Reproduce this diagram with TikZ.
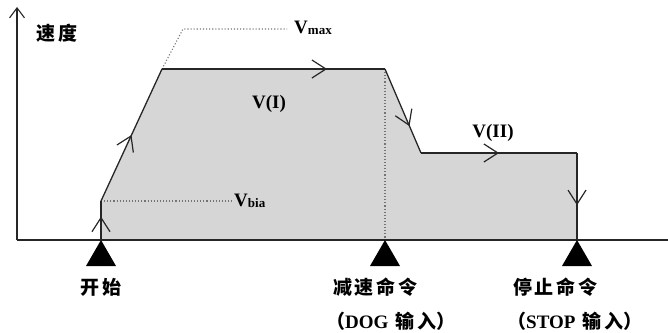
\documentclass[tikz,border=0pt]{standalone}
\usepackage{fontspec}
\setmainfont{Liberation Serif}
\newfontfamily\cjk[LetterSpace=14]{Noto Sans CJK SC}
\newfontfamily\cjkp{Noto Sans CJK SC}
\usetikzlibrary{arrows.meta,decorations.markings}
\tikzset{
  barb/.tip={Straight Barb[length=14pt,width=18pt,line width=1.2pt]},
  axbarb/.tip={Straight Barb[length=10pt,width=15pt,line width=1.1pt]},
  prof/.style={line width=1.3pt,draw=black!85},
  midarr/.style={postaction={decorate},decoration={markings,
     mark=at position #1 with {\arrow{barb}}}},
  dots/.style={dotted,line width=1.1pt,draw=black!55},
  tri/.style={fill=black},
  cjklab/.style={font=\cjk\bfseries\fontsize{19}{22}\selectfont,inner sep=0pt},
  vlab/.style={font=\bfseries\fontsize{19}{22}\selectfont,inner sep=0pt},
  slab/.style={font=\bfseries\fontsize{19}{21}\selectfont,inner sep=0pt},
}
\begin{document}
\begin{tikzpicture}[x=1pt,y=-1pt]
\useasboundingbox (0,0) rectangle (668,332);
% coordinates
\coordinate (O) at (17,240);
\coordinate (Ytop) at (17,7);
\coordinate (Xend) at (668,240);
\coordinate (S) at (101,240);
\coordinate (B) at (101,201);
\coordinate (P1) at (162,69);
\coordinate (P2) at (385,69);
\coordinate (Q1) at (421,153);
\coordinate (Q2) at (577,153);
\coordinate (E) at (577,240);
\coordinate (D) at (385,240);
\coordinate (Bend) at (232,201);
\coordinate (M1) at (183,29);
\coordinate (M2) at (287,29);
% fill
\fill[black!16] (S) -- (B) -- (P1) -- (P2) -- (Q1) -- (Q2) -- (E) -- cycle;
% dotted guides
\draw[dots] (B) -- (Bend);
\draw[dots] (P1) -- (M1) -- (M2);
\draw[dots] (P2) -- (D);
% axes
\draw[line width=1.1pt,draw=black!85,-axbarb] (O) -- (Ytop);
\draw[line width=1.1pt,draw=black!85] (O) -- (Xend);
% profile
\draw[prof,midarr=0.6] (S) -- (B);
\draw[prof,midarr=0.5] (B) -- (P1);
\draw[prof,midarr=0.74] (P1) -- (P2);
\draw[prof,midarr=0.68] (P2) -- (Q1);
\draw[prof,midarr=0.5] (Q1) -- (Q2);
\draw[prof,midarr=0.6] (Q2) -- (E);
% triangles
\fill[tri] (S) -- ++(-15,26) -- ++(30,0) -- cycle;
\fill[tri] (D) -- ++(-15,26) -- ++(30,0) -- cycle;
\fill[tri] (E) -- ++(-15,26) -- ++(30,0) -- cycle;
% labels
\node[cjklab] (ylab) at (57,33) {速度};
\node[cjklab] (start) at (101,287) {开始};
\node[cjklab,anchor=west] (dec) at (333,287) {减速命令};
\node[cjklab,anchor=west] (stop) at (513,287) {停止命令};
\node[cjklab,anchor=west] (dog) at (326,321) {{\cjkp （}{\rmfamily\bfseries DOG} {\cjk 输入}{\cjkp ）}};
\node[cjklab,anchor=west] (stopin) at (507,321) {{\cjkp （}{\rmfamily\bfseries STOP} {\cjk 输入}{\cjkp ）}};
\node[vlab] (v1) at (269,104) {V(I)};
\node[vlab] (v2) at (493,133) {V(II)};
\node[slab,anchor=base west] (vmax) at (294,33) {V\raisebox{-1pt}{\fontsize{13}{14}\selectfont max}};
\node[slab,anchor=base west] (vbia) at (234,206) {V\raisebox{-1pt}{\fontsize{13}{14}\selectfont bia}};
\end{tikzpicture}
\end{document}
